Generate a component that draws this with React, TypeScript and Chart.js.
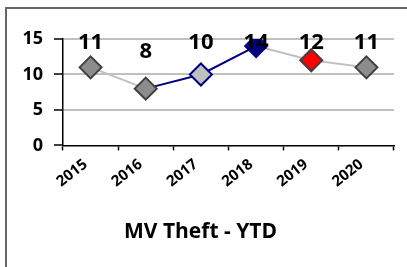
import React, { useEffect, useRef } from "react";
import { Chart, registerables } from "chart.js";

Chart.register(...registerables);

const categories = ["2015", "2016", "2017", "2018", "2019", "2020"];
const values = [11, 8, 10, 14, 12, 11];
const pointFill = ["#8c8c8c", "#8c8c8c", "#c0c0c0", "#000080", "#ff0000", "#8c8c8c"];
const pointStroke = ["#404040", "#404040", "#000080", "#000080", "#404040", "#404040"];
const segmentColors = ["#c0c0c0", "#000080", "#000080", "#c0c0c0", "#c0c0c0"];
const yTicks = [0, 5, 10, 15];
const titleText = "MV Theft - YTD";

const FONT = "'Open Sans', 'DejaVu Sans', sans-serif";

const dataLabelPlugin = {
  id: "dataLabels",
  afterDatasetsDraw(chart: any) {
    const ctx = chart.ctx;
    const meta = chart.getDatasetMeta(0);
    const area = chart.chartArea;
    ctx.save();
    ctx.font = `bold 22px ${FONT}`;
    ctx.fillStyle = "#000000";
    ctx.textAlign = "center";
    ctx.textBaseline = "middle";
    meta.data.forEach((pt: any, i: number) => {
      const y = Math.max(pt.y - 37, area.top + 4);
      ctx.fillText(String(values[i]), pt.x, y);
    });
    ctx.restore();
  },
};

export default function App() {
  const canvasRef = useRef<HTMLCanvasElement | null>(null);

  useEffect(() => {
    if (!canvasRef.current) return;
    const chart = new Chart(canvasRef.current, {
      type: "line",
      data: {
        labels: categories,
        datasets: [
          {
            data: values,
            borderWidth: 2,
            borderColor: "#c0c0c0",
            segment: {
              borderColor: (c: any) => segmentColors[c.p0DataIndex],
            },
            pointStyle: "rectRot",
            pointRadius: 11,
            pointHoverRadius: 11,
            pointBackgroundColor: pointFill,
            pointBorderColor: pointStroke,
            pointBorderWidth: 2,
            tension: 0,
          },
        ],
      },
      options: {
        animation: false,
        responsive: false,
        maintainAspectRatio: false,
        layout: { padding: { top: 39, right: 6, left: 0, bottom: 0 } },
        plugins: {
          legend: { display: false },
          tooltip: { enabled: false },
          title: {
            display: true,
            text: titleText,
            position: "bottom",
            color: "#000000",
            font: { family: FONT, size: 21, weight: "bold", lineHeight: 1.2 },
            padding: { top: 0, bottom: 22 },
          },
        },
        scales: {
          x: {
            type: "category",
            offset: true,
            grid: {
              offset: true,
              drawOnChartArea: false,
              drawTicks: true,
              tickLength: 5,
              tickColor: "#000000",
              tickWidth: 1.5,
              color: "#000000",
            },
            border: { display: true, color: "#000000", width: 1.5 },
            ticks: {
              minRotation: 38,
              maxRotation: 38,
              autoSkip: false,
              color: "#000000",
              font: { family: FONT, size: 15, weight: "bold" },
              padding: 5,
              labelOffset: -5,
            },
            afterFit: (scale: any) => {
              scale.height = 74.4;
            },
          },
          y: {
            min: 0,
            max: 15,
            afterBuildTicks: (scale: any) => {
              scale.ticks = yTicks.map((v) => ({ value: v }));
            },
            grid: {
              color: (c: any) => (c.tick && c.tick.value === 0 ? "rgba(0,0,0,0)" : "#c0c0c0"),
              lineWidth: 2,
              tickColor: "#000000",
              tickLength: 9,
              tickWidth: 1.5,
            },
            border: { display: true, color: "#000000", width: 1.5 },
            ticks: {
              color: "#000000",
              font: { family: FONT, size: 18, weight: "bold" },
              padding: 11,
            },
            afterFit: (scale: any) => {
              scale.width = 63;
            },
          },
        },
      },
      plugins: [dataLabelPlugin],
    } as any);
    return () => chart.destroy();
  }, []);

  return (
    <div style={{ position: "absolute", left: 0, top: 0, width: 407, height: 267, overflow: "hidden", background: "#ffffff" }}>
      <canvas ref={canvasRef} width={407} height={267} style={{ position: "absolute", left: 0, top: 0, width: 407, height: 267 }} />
      <div
        style={{
          position: "absolute",
          left: 5,
          top: 7,
          width: 500,
          height: 500,
          borderLeft: "2px solid #666666",
          borderTop: "2px solid #666666",
          pointerEvents: "none",
        }}
      />
    </div>
  );
}
